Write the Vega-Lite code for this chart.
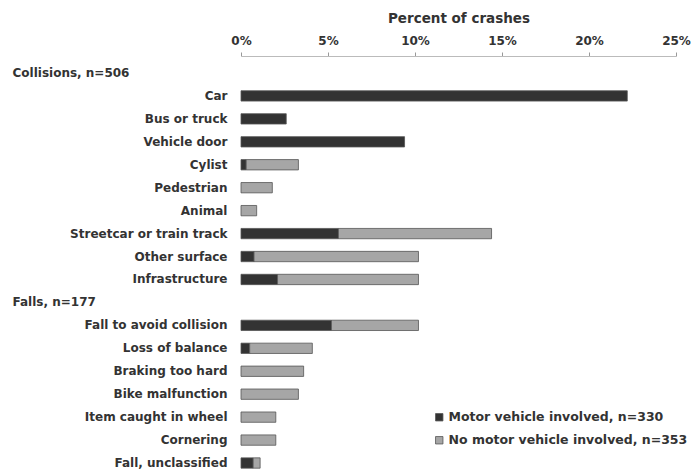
{
  "$schema": "https://vega.github.io/schema/vega-lite/v6.json",
  "width": 435,
  "height": 424,
  "autosize": {"type": "none"},
  "padding": {"left": 241, "top": 56, "right": 18, "bottom": 0},
  "background": "#ffffff",
  "config": {
    "view": {"stroke": null},
    "font": "DejaVu Sans"
  },
  "data": {
    "values": [
      {"cause": "Car", "group": "Motor vehicle involved, n=330", "k": 1, "pct": 22.2},
      {"cause": "Bus or truck", "group": "Motor vehicle involved, n=330", "k": 1, "pct": 2.6},
      {"cause": "Vehicle door", "group": "Motor vehicle involved, n=330", "k": 1, "pct": 9.4},
      {"cause": "Cylist", "group": "Motor vehicle involved, n=330", "k": 1, "pct": 0.3},
      {"cause": "Cylist", "group": "No motor vehicle involved, n=353", "k": 2, "pct": 3.0},
      {"cause": "Pedestrian", "group": "No motor vehicle involved, n=353", "k": 2, "pct": 1.8},
      {"cause": "Animal", "group": "No motor vehicle involved, n=353", "k": 2, "pct": 0.9},
      {"cause": "Streetcar or train track", "group": "Motor vehicle involved, n=330", "k": 1, "pct": 5.6},
      {"cause": "Streetcar or train track", "group": "No motor vehicle involved, n=353", "k": 2, "pct": 8.8},
      {"cause": "Other surface", "group": "Motor vehicle involved, n=330", "k": 1, "pct": 0.75},
      {"cause": "Other surface", "group": "No motor vehicle involved, n=353", "k": 2, "pct": 9.45},
      {"cause": "Infrastructure", "group": "Motor vehicle involved, n=330", "k": 1, "pct": 2.1},
      {"cause": "Infrastructure", "group": "No motor vehicle involved, n=353", "k": 2, "pct": 8.1},
      {"cause": "Fall to avoid collision", "group": "Motor vehicle involved, n=330", "k": 1, "pct": 5.2},
      {"cause": "Fall to avoid collision", "group": "No motor vehicle involved, n=353", "k": 2, "pct": 5.0},
      {"cause": "Loss of balance", "group": "Motor vehicle involved, n=330", "k": 1, "pct": 0.5},
      {"cause": "Loss of balance", "group": "No motor vehicle involved, n=353", "k": 2, "pct": 3.6},
      {"cause": "Braking too hard", "group": "No motor vehicle involved, n=353", "k": 2, "pct": 3.6},
      {"cause": "Bike malfunction", "group": "No motor vehicle involved, n=353", "k": 2, "pct": 3.3},
      {"cause": "Item caught in wheel", "group": "No motor vehicle involved, n=353", "k": 2, "pct": 2.0},
      {"cause": "Cornering", "group": "No motor vehicle involved, n=353", "k": 2, "pct": 2.0},
      {"cause": "Fall, unclassified", "group": "Motor vehicle involved, n=330", "k": 1, "pct": 0.7},
      {"cause": "Fall, unclassified", "group": "No motor vehicle involved, n=353", "k": 2, "pct": 0.4}
    ]
  },
  "mark": {"type": "bar", "stroke": "#555555", "strokeWidth": 0.8},
  "encoding": {
    "y": {
      "field": "cause",
      "type": "nominal",
      "scale": {
        "domain": ["Collisions, n=506", "Car", "Bus or truck", "Vehicle door", "Cylist", "Pedestrian", "Animal", "Streetcar or train track", "Other surface", "Infrastructure", "Falls, n=177", "Fall to avoid collision", "Loss of balance", "Braking too hard", "Bike malfunction", "Item caught in wheel", "Cornering", "Fall, unclassified"],
        "paddingInner": 0.55,
        "paddingOuter": 0.515
      },
      "axis": {
        "title": null,
        "domain": false,
        "ticks": false,
        "labelFont": "DejaVu Sans",
        "labelFontSize": 12,
        "labelFontWeight": "bold",
        "labelColor": "#333333",
        "labelLimit": 0,
        "labelAlign": {"condition": {"test": "datum.label == 'Collisions, n=506' || datum.label == 'Falls, n=177'", "value": "left"}, "value": "right"},
        "labelPadding": {"condition": {"test": "datum.label == 'Collisions, n=506' || datum.label == 'Falls, n=177'", "value": 229}, "value": 14}
      }
    },
    "x": {
      "field": "pct",
      "type": "quantitative",
      "stack": "zero",
      "scale": {"domain": [0, 25], "nice": false},
      "axis": {
        "orient": "top",
        "title": "Percent of crashes",
        "titleFont": "DejaVu Sans",
        "titleFontSize": 13.5,
        "titleFontWeight": "bold",
        "titleColor": "#333333",
        "titlePadding": 9,
        "values": [0, 5, 10, 15, 20, 25],
        "labelExpr": "datum.value + '%'",
        "labelFont": "DejaVu Sans",
        "labelFontSize": 12,
        "labelFontWeight": "bold",
        "labelColor": "#333333",
        "labelPadding": 5,
        "labelFlush": false,
        "grid": false,
        "domainColor": "#bbbbbb",
        "tickColor": "#999999",
        "tickSize": 4
      }
    },
    "color": {
      "field": "group",
      "type": "nominal",
      "scale": {
        "domain": ["Motor vehicle involved, n=330", "No motor vehicle involved, n=353"],
        "range": ["#333333", "#a6a6a6"]
      },
      "legend": {
        "title": null,
        "orient": "none",
        "legendX": 192,
        "legendY": 355,
        "symbolType": "square",
        "symbolSize": 55,
        "symbolStrokeColor": "#555555",
        "symbolStrokeWidth": 0.8,
        "labelFont": "DejaVu Sans",
        "labelFontSize": 12.5,
        "labelFontWeight": "bold",
        "labelColor": "#333333",
        "labelLimit": 0,
        "labelOffset": 3,
        "rowPadding": 10
      }
    },
    "order": {"field": "k", "type": "quantitative"}
  }
}
